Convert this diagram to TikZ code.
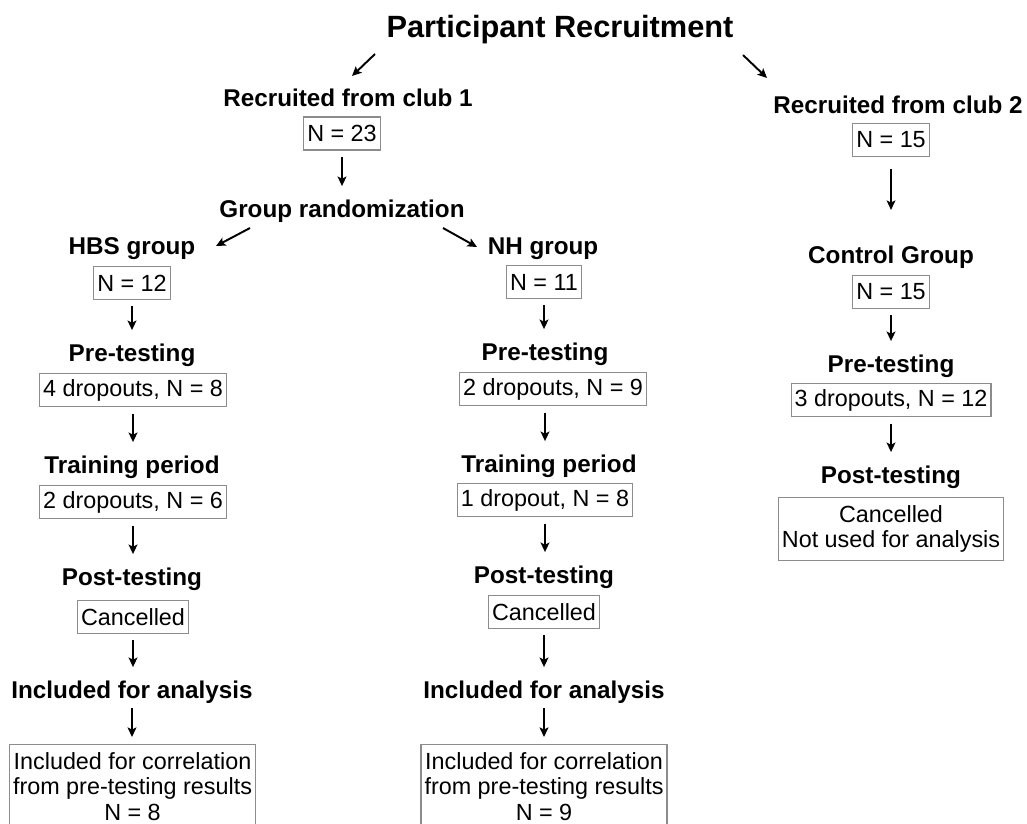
\documentclass[tikz,border=0pt]{standalone}
\usepackage{fontspec}
\setmainfont{Liberation Sans}
\usetikzlibrary{arrows.meta}

\newcommand{\titlefont}{\fontsize{17.5}{20}\selectfont\bfseries}
\newcommand{\headfont}{\fontsize{13.8}{16}\selectfont\bfseries}
\newcommand{\boxfont}{\fontsize{13.3}{14.5}\selectfont}

\begin{document}
\begin{tikzpicture}[
    x=0.02cm, y=-0.02cm,
    head/.style={font=\headfont, inner sep=0pt, anchor=base},
    box/.style={draw=black!45, line width=0.6pt, font=\boxfont, inner xsep=2pt, minimum height=0.66cm},
    mbox/.style={box, align=center, anchor=north, inner ysep=4.5pt},
    darr/.style={-{Stealth[length=5.4pt,width=5pt,inset=1.2pt]}, line width=1.1pt},
    arr/.style={darr, shorten <=3.6pt, shorten >=7.4pt}
]
\useasboundingbox (0,0) rectangle (1027,823);

\node[head, font=\titlefont] (title) at (560,37) {Participant Recruitment};

% club 1
\node[head] (club1) at (348,106) {Recruited from club 1};
\node[box] (n23) at (342,133.5) {N = 23};
\node[head] (rand) at (342,217) {Group randomization};

% HBS group
\node[head] (hbs) at (132,254) {HBS group};
\node[box] (n12) at (132,283) {N = 12};
\node[head] (preL) at (132,361) {Pre-testing};
\node[box] (dropL1) at (133,390) {4 dropouts, N = 8};
\node[head] (trainL) at (132,473) {Training period};
\node[box] (dropL2) at (133,502) {2 dropouts, N = 6};
\node[head] (postL) at (132,585) {Post-testing};
\node[box] (cancL) at (133,617) {Cancelled};
\node[head] (inclL) at (132,698) {Included for analysis};
\node[mbox] (corrL) at (132.5,744) {Included for correlation\\from pre-testing results\\N = 8};

% NH group
\node[head] (nh) at (543,254) {NH group};
\node[box] (n11) at (544,282) {N = 11};
\node[head] (preM) at (545,360) {Pre-testing};
\node[box] (dropM1) at (553,389) {2 dropouts, N = 9};
\node[head] (trainM) at (549,472) {Training period};
\node[box] (dropM2) at (545,500) {1 dropout, N = 8};
\node[head] (postM) at (544,583) {Post-testing};
\node[box] (cancM) at (544,612) {Cancelled};
\node[head] (inclM) at (544,698) {Included for analysis};
\node[mbox] (corrM) at (544,744) {Included for correlation\\from pre-testing results\\N = 9};

% club 2 / control
\node[head] (club2) at (898,113) {Recruited from club 2};
\node[box] (n15a) at (891,140) {N = 15};
\node[head] (ctrl) at (891,263) {Control Group};
\node[box] (n15b) at (891,292) {N = 15};
\node[head] (preR) at (891,372) {Pre-testing};
\node[box] (dropR) at (891,400) {3 dropouts, N = 12};
\node[head] (postR) at (891,483) {Post-testing};
\node[mbox] (cancR) at (891,497) {Cancelled\\Not used for analysis};

% split arrows
\coordinate (t1) at (375,54);
\coordinate (t2) at (352,76);
\coordinate (t3) at (743,55);
\coordinate (t4) at (767,78);
\coordinate (g1) at (250,228);
\coordinate (g2) at (216,246);
\coordinate (g3) at (443,228);
\coordinate (g4) at (477,247);
\draw[darr] (t1) -- (t2);
\draw[darr] (t3) -- (t4);
\draw[darr] (g1) -- (g2);
\draw[darr] (g3) -- (g4);

\draw[arr] (n23) -- (n23 |- rand.north);

\draw[arr] (n12) -- (n12 |- preL.north);
\draw[arr] (dropL1) -- (dropL1 |- trainL.north);
\draw[arr] (dropL2) -- (dropL2 |- postL.north);
\draw[arr] (cancL) -- (cancL |- inclL.north);
\draw[arr, shorten <=2.5pt, shorten >=4pt] (inclL) -- (inclL |- corrL.north);

\draw[arr] (n11) -- (n11 |- preM.north);
\draw[arr] (dropM1.south -| dropM2) -- (dropM2 |- trainM.north);
\draw[arr] (dropM2) -- (dropM2 |- postM.north);
\draw[arr] (cancM) -- (cancM |- inclM.north);
\draw[arr, shorten <=2.5pt, shorten >=4pt] (inclM) -- (inclM |- corrM.north);

\draw[arr, shorten <=7pt, shorten >=20pt] (n15a) -- (n15a |- ctrl.north);
\draw[arr] (n15b) -- (n15b |- preR.north);
\draw[arr] (dropR) -- (dropR |- postR.north);
\end{tikzpicture}
\end{document}
